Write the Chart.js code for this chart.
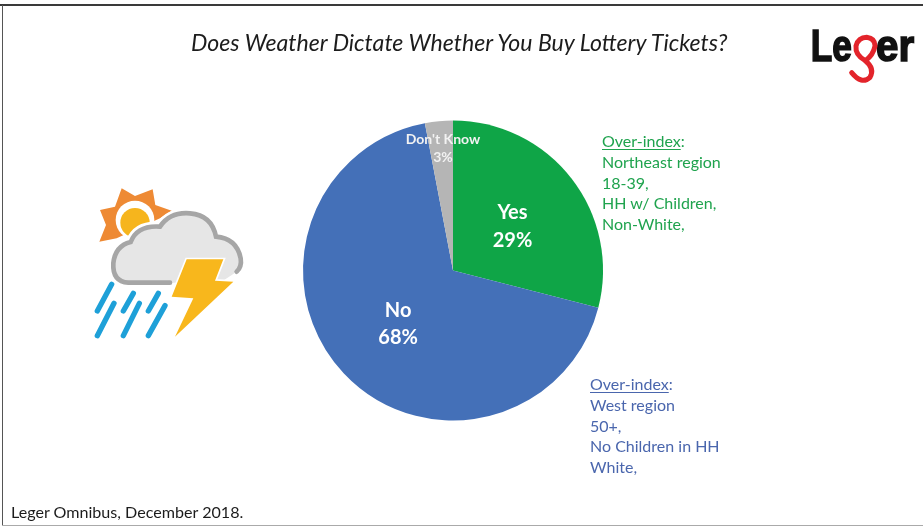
<!DOCTYPE html>
<html><head><meta charset="utf-8">
<script src="https://cdn.jsdelivr.net/npm/chart.js@4"></script>
<style>
html,body{margin:0;padding:0;background:#fff;width:923px;height:527px;overflow:hidden}
#wrap{position:relative;width:923px;height:527px;font-family:Lato,"Open Sans",sans-serif}
canvas{position:absolute;left:0;top:0}
.t{position:absolute;white-space:nowrap}
#frameTop{position:absolute;left:0;top:4px;width:923px;height:2px;background:#3a3a3a}
#frameLeft{position:absolute;left:2px;top:5px;width:1px;height:520px;background:#555}
#frameBottom{position:absolute;left:2px;top:525px;width:921px;height:1px;background:#aaa}
#title{left:191px;top:28px;font-size:23.1px;font-style:italic;color:#1c1c1c}
#foot{left:11px;top:502px;font-size:16.1px;color:#1c1c1c}
.note{font-size:16px;line-height:20.8px}
.note u{text-underline-offset:2px}
#noteYes{left:602px;top:131px;color:#1fa34e}
#noteNo{left:590px;top:374px;color:#4a66ad}
#icon{position:absolute;left:80px;top:170px}
#logo{position:absolute;left:800px;top:20px}
</style></head>
<body><div id="wrap">
<canvas id="c" width="923" height="527"></canvas>
<div id="frameTop"></div><div id="frameLeft"></div><div id="frameBottom"></div>
<div class="t" id="title"></div>
<div class="t" id="foot"></div>
<div class="t note" id="noteYes"></div>
<div class="t note" id="noteNo"></div>
<svg id="icon" width="180" height="180" viewBox="0 0 540 540">
  <polygon fill="#ee8a34" points="125,55 165,78 218,58 226,105 275,122 240,145 110,205 58,215 78,165 60,120 105,110"/>
  <circle cx="165" cy="150" r="58" fill="#fff"/>
  <circle cx="165" cy="158" r="44" fill="#f6b51d"/>
  <path d="M270,338 L145,338 Q97,335 100,280 Q105,228 152,216 Q172,165 240,170 Q270,125 330,130 Q395,135 408,200 Q470,205 482,265 Q486,290 470,305 L400,340 Z" fill="#fff" stroke="#fff" stroke-width="30" stroke-linejoin="round"/>
  <path d="M270,338 L145,338 Q97,335 100,280 Q105,228 152,216 Q172,165 240,170 Q270,125 330,130 Q395,135 408,200 Q470,205 482,265 Q486,290 470,305 L420,338 L270,338" fill="#e6e6e6" stroke="none"/>
  <path d="M270,338 L145,338 Q97,335 100,280 Q105,228 152,216 Q172,165 240,170 Q270,125 330,130 Q395,135 408,200 Q470,205 482,265 Q486,290 470,305" fill="none" stroke="#a6a6a6" stroke-width="14" stroke-linecap="round"/>
  <polygon fill="#f8b71c" stroke="#fff" stroke-width="10" paint-order="stroke" points="320,268 430,268 405,332 460,335 285,500 340,385 275,380"/>
  <g stroke="#1ea0d8" stroke-width="16" stroke-linecap="round">
    <line x1="95" y1="343" x2="52" y2="423"/><line x1="102" y1="400" x2="52" y2="497"/>
    <line x1="160" y1="370" x2="130" y2="423"/><line x1="178" y1="400" x2="130" y2="497"/>
    <line x1="235" y1="370" x2="205" y2="423"/><line x1="255" y1="407" x2="205" y2="497"/>
  </g>
</svg>
<svg id="logo" width="123" height="70" viewBox="0 0 369 210">
  <text transform="translate(32,122) scale(2.4,3)" style="font-family:'Liberation Sans';font-weight:700;font-size:44px;stroke:#111;stroke-width:1.6px" fill="#111">Le</text>
  <text transform="translate(228,122) scale(2.75,3)" style="font-family:'Liberation Sans';font-weight:700;font-size:44px;stroke:#111;stroke-width:1.6px" fill="#111">er</text>
  <path d="M196,122 Q165,105 168,78 Q175,52 200,52 Q225,55 225,78 Q220,105 196,122 Q225,145 210,172 Q185,195 155,158" fill="none" stroke="#e3242b" stroke-width="15" stroke-linecap="round"/>
</svg>
</div>
<script>
const categories = ["Yes", "No", "Don't Know"];
const seriesValues = [29, 68, 3];
const sliceColors = ["#0fa547", "#4470b8", "#b5b5b5"];
const titleText = "Does Weather Dictate Whether You Buy Lottery Tickets?";
const footText = "Leger Omnibus, December 2018.";
const yesNote = ["Northeast region", "18-39,", "HH w/ Children,", "Non-White,"];
const noNote = ["West region", "50+,", "No Children in HH", "White,"];
const noteHead = "Over-index";

document.getElementById('title').textContent = titleText;
document.getElementById('foot').textContent = footText;
function fillNote(id, lines){
  const el = document.getElementById(id);
  el.innerHTML = '<u>' + noteHead + '</u>:<br>' + lines.join('<br>');
}
fillNote('noteYes', yesNote);
fillNote('noteNo', noNote);

const sliceLabels = {
  id: 'sliceLabels',
  afterDatasetsDraw(chart){
    const ctx = chart.ctx, meta = chart.getDatasetMeta(0);
    const spots = [
      {r:0.62, size:20, lh:28, dx:-14, dy:13},
      {r:0.52, size:20, lh:27, dx:2, dy:0},
      {r:0.78, size:14, lh:18, dx:1, dy:-6}
    ];
    meta.data.forEach((arc, i) => {
      const mid = (arc.startAngle + arc.endAngle) / 2;
      const s = spots[i];
      const x = arc.x + Math.cos(mid) * arc.outerRadius * s.r + s.dx;
      const y = arc.y + Math.sin(mid) * arc.outerRadius * s.r + s.dy;
      ctx.save();
      ctx.fillStyle = i === 2 ? '#f2f2f2' : '#ffffff';
      ctx.font = '700 ' + s.size + 'px Lato, sans-serif';
      ctx.textAlign = 'center';
      ctx.textBaseline = 'middle';
      ctx.fillText(categories[i], x, y - s.lh / 2);
      ctx.fillText(seriesValues[i] + '%', x, y + s.lh / 2);
      ctx.restore();
    });
  }
};

new Chart(document.getElementById('c'), {
  type: 'pie',
  data: { labels: categories, datasets: [{ data: seriesValues, backgroundColor: sliceColors, borderWidth: 0 }] },
  options: {
    responsive: false, animation: false,
    layout: { padding: { left: 303, right: 320, top: 120, bottom: 106 } },
    plugins: { legend: { display: false }, tooltip: { enabled: false }, title: { display: false } }
  },
  plugins: [sliceLabels]
});
</script>
</body></html>
